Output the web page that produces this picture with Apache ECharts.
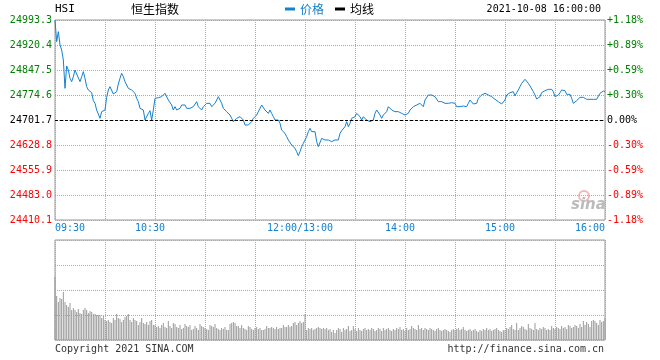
<!DOCTYPE html>
<html><head><meta charset="utf-8">
<script src="https://cdn.jsdelivr.net/npm/echarts@6/dist/echarts.min.js"></script>
<style>html,body{margin:0;padding:0;background:#fff}#c{width:660px;height:360px}</style>
</head><body><div id="c"></div>
<script>
// ---------- data ----------
const preClose = 24701.7;
const priceStep = 72.9;
const leftTickLabels = ['24993.3','24920.4','24847.5','24774.6','24701.7','24628.8','24555.9','24483.0','24410.1'];
const rightTickLabels = ['+1.18%','+0.89%','+0.59%','+0.30%','0.00%','-0.30%','-0.59%','-0.89%','-1.18%'];
const xTickTimes = ['09:30','10:30','12:00','14:00','15:00','16:00'];
const xTickLabels = ['09:30','10:30','12:00/13:00','14:00','15:00','16:00'];

const prices = [
24993.3,24930.1,24959.3,24920.4,24905.8,24876.7,24794.0,24859.2,24847.5,24823.2,
24813.5,24828.1,24847.5,24835.8,24837.8,24813.5,24828.1,24842.6,24823.2,24798.9,
24789.2,24794.0,24781.4,24758.1,24750.3,24730.9,24726.0,24706.6,24726.0,24730.9,
24730.9,24767.8,24789.2,24798.9,24803.8,24777.5,24774.6,24784.3,24806.7,24823.2,
24837.8,24828.1,24813.5,24803.8,24794.0,24789.2,24789.2,24789.2,24779.5,24764.9,
24755.2,24735.7,24730.9,24730.9,24701.7,24696.8,24721.1,24728.9,24701.7,24730.9,
24764.9,24764.9,24766.8,24767.8,24769.7,24771.7,24779.5,24784.3,24760.0,24755.2,
24745.4,24730.9,24740.6,24730.9,24726.0,24735.7,24745.4,24750.3,24745.4,24735.7,
24730.9,24735.7,24740.6,24740.6,24745.4,24755.2,24740.6,24740.6,24730.9,24740.6,
24745.4,24750.3,24745.4,24750.3,24740.6,24745.4,24750.3,24755.2,24769.7,24760.0,
24750.3,24735.7,24730.9,24726.0,24721.1,24716.3,24706.6,24696.8,24701.7,24706.6,
24711.4,24711.4,24711.4,24701.7,24687.1,24692.0,24687.1,24687.1,24696.8,24706.6,
24711.4,24716.3,24721.1,24735.7,24745.4,24740.6,24730.9,24730.9,24721.1,24730.9,
24721.1,24711.4,24701.7,24703.6,24701.7,24692.0,24672.5,24667.7,24662.8,24653.1,
24643.4,24638.5,24628.8,24623.9,24619.1,24609.4,24597.7,24609.4,24623.9,24633.7,
24638.5,24653.1,24667.7,24677.4,24667.7,24672.5,24667.7,24638.5,24623.9,24628.8,
24648.2,24653.1,24643.4,24638.5,24643.4,24648.2,24638.5,24643.4,24643.4,24643.4,
24643.4,24662.8,24670.6,24672.5,24682.3,24696.8,24682.3,24692.0,24706.6,24711.4,
24711.4,24721.1,24726.0,24711.4,24701.7,24711.4,24706.6,24701.7,24701.7,24696.8,
24692.0,24701.7,24721.1,24730.9,24726.0,24716.3,24706.6,24716.3,24721.1,24726.0,
24740.6,24740.6,24730.9,24730.9,24726.0,24721.1,24726.0,24730.9,24721.1,24716.3,
24716.3,24716.3,24721.1,24730.9,24735.7,24740.6,24740.6,24745.4,24750.3,24750.3,
24745.4,24740.6,24760.0,24764.9,24774.6,24779.5,24774.6,24774.6,24769.7,24764.9,
24755.2,24755.2,24755.2,24750.3,24750.3,24750.3,24750.3,24750.3,24752.2,24752.2,
24750.3,24740.6,24735.7,24740.6,24740.6,24742.5,24745.4,24740.6,24750.3,24760.0,
24755.2,24748.4,24748.4,24750.3,24764.9,24769.7,24774.6,24776.5,24779.5,24777.5,
24774.6,24771.7,24769.7,24764.9,24762.0,24760.0,24755.2,24750.3,24748.4,24750.3,
24760.0,24774.6,24777.5,24781.4,24779.5,24784.3,24771.7,24781.4,24789.2,24798.9,
24808.6,24813.5,24820.3,24826.1,24808.6,24800.8,24798.9,24784.3,24774.6,24762.9,
24764.9,24769.7,24781.4,24784.3,24787.2,24789.2,24791.1,24791.1,24791.1,24784.3,
24769.7,24767.8,24774.6,24781.4,24789.2,24794.0,24787.2,24776.5,24776.5,24776.5,
24764.9,24750.3,24752.2,24758.1,24762.0,24767.8,24762.0,24767.8,24764.9,24762.0,
24767.8,24762.0,24764.9,24762.0,24762.0,24762.0,24767.8,24779.5,24784.3,24786.3,
24784.3
];

const volumes = [
63,44,38,42,41,48,38,35,33,37,
30,32,30,28,31,27,26,30,32,30,
27,29,28,26,26,25,25,25,22,24,
20,19,20,18,17,22,20,26,22,21,
18,20,23,24,26,20,18,22,20,19,
15,18,22,17,16,18,15,19,20,15,
15,13,14,12,15,17,13,12,19,14,
12,17,16,13,12,15,11,12,16,14,
13,15,10,11,14,12,10,16,14,13,
12,11,10,15,14,13,16,12,11,10,
12,11,13,10,10,16,17,18,17,14,
14,12,15,12,11,10,14,13,11,10,
12,13,11,12,10,10,11,14,12,12,
13,12,11,13,11,12,12,15,13,13,
15,13,14,17,18,15,17,19,17,18,
26,
10,12,11,12,10,11,12,13,12,11,
12,11,12,10,
11,8,10,7,10,12,11,8,12,10,11,14,9,
10,14,11,9,12,10,9,11,12,10,11,10,12,11,9,10,12,
11,9,12,10,11,12,10,9,11,10,12,11,13,10,11,9,12,10,11,14,12,11,10,15,11,12,10,12,11,10,
12,11,10,9,11,12,10,9,10,11,10,9,8,10,11,
10,11,12,10,11,13,10,9,10,11,9,10,11,9,8,10,9,11,10,12,10,11,9,10,11,12,10,9,8,10,
10,12,11,13,15,11,10,17,10,12,14,13,11,10,16,12,11,10,17,11,10,12,11,13,12,10,11,10,14,12,11,
13,12,11,14,12,13,11,15,14,12,13,15,14,12,16,13,19,15,18,16,13,19,20,19,17,15,20,18,19,22
];

// ---------- categories (trading minutes) ----------
const times = [];
function pushRange(h0, m0, h1, m1) {
  for (let t = h0 * 60 + m0; t <= h1 * 60 + m1; t++) {
    times.push(String(Math.floor(t / 60)).padStart(2, '0') + ':' + String(t % 60).padStart(2, '0'));
  }
}
pushRange(9, 30, 12, 0);
pushRange(13, 1, 16, 0);

const deltas = prices.map(p => +(p - preClose).toFixed(1));

const MONO = 'DejaVu Sans Mono';
const BLUE = '#1480d0';
const gridLine = { show: true, lineStyle: { color: '#aaa', type: [1, 1], width: 1 } };
const splitX = { show: true, interval: (i) => i % 30 === 0, lineStyle: { color: '#aaa', type: [1, 1], width: 1 } };
const upDownColor = (v) => { v = Number(v); return v > 0.01 ? '#008000' : (v < -0.01 ? '#ff0000' : '#000000'); };
const tickIdx = (v) => 4 - Math.round(Number(v) / priceStep);

const chart = echarts.init(document.getElementById('c'));
chart.setOption({
  animation: false,
  backgroundColor: '#fff',
  legend: {
    left: 285, top: 3, padding: 0, icon: 'rect', itemWidth: 10, itemHeight: 3, itemGap: 11,
    textStyle: { fontSize: 12, fontFamily: 'Noto Sans CJK SC' },
    data: [
      { name: '价格', textStyle: { color: BLUE } },
      { name: '均线', textStyle: { color: '#000' } }
    ]
  },
  grid: [
    { left: 55, top: 20, width: 550, height: 200, show: true, borderColor: '#999', borderWidth: 1 },
    { left: 55, top: 240, width: 550, height: 100, show: true, borderColor: '#999', borderWidth: 1 }
  ],
  xAxis: [
    {
      type: 'category', gridIndex: 0, data: times, boundaryGap: false,
      axisLine: { show: false }, axisTick: { show: false },
      splitLine: splitX,
      axisLabel: {
        margin: 3,
        interval: (i, v) => xTickTimes.indexOf(v) >= 0,
        formatter: (v) => {
          const k = xTickTimes.indexOf(v);
          const s = xTickLabels[k];
          if (k === 0) return '{l|' + s + '}';
          if (k === xTickTimes.length - 1) return '{r|' + s + '}';
          return '{m|' + s + '}';
        },
        rich: {
          l: { fontFamily: MONO, fontSize: 10, color: BLUE, padding: [0, 0, 0, 30] },
          r: { fontFamily: MONO, fontSize: 10, color: BLUE, padding: [0, 30, 0, 0] },
          m: { fontFamily: MONO, fontSize: 10, color: BLUE, padding: [0, 10, 0, 0] }
        }
      }
    },
    {
      type: 'category', gridIndex: 1, data: times, boundaryGap: false,
      axisLine: { show: false }, axisTick: { show: false }, axisLabel: { show: false },
      splitLine: splitX
    }
  ],
  yAxis: [
    {
      type: 'value', gridIndex: 0, position: 'left',
      min: -4 * priceStep, max: 4 * priceStep, interval: priceStep,
      axisLine: { show: false }, axisTick: { show: false },
      splitLine: gridLine,
      axisLabel: {
        margin: 3, fontFamily: MONO, fontSize: 10, padding: [0, 0, 5, 0],
        color: upDownColor,
        formatter: (v) => leftTickLabels[tickIdx(v)]
      }
    },
    {
      type: 'value', gridIndex: 0, position: 'right',
      min: -4 * priceStep, max: 4 * priceStep, interval: priceStep,
      axisLine: { show: false }, axisTick: { show: false },
      splitLine: { show: false },
      axisLabel: {
        margin: 2, fontFamily: MONO, fontSize: 10, padding: [0, 0, 5, 0],
        color: upDownColor,
        formatter: (v) => rightTickLabels[tickIdx(v)]
      }
    },
    {
      type: 'value', gridIndex: 1, min: 0, max: 100, interval: 25,
      axisLine: { show: false }, axisTick: { show: false }, axisLabel: { show: false },
      splitLine: gridLine
    }
  ],
  series: [
    {
      name: '价格', type: 'line', xAxisIndex: 0, yAxisIndex: 0, data: deltas,
      showSymbol: false, symbol: 'none', color: BLUE,
      lineStyle: { color: BLUE, width: 1 },
      markLine: {
        silent: true, symbol: ['none', 'none'], label: { show: false },
        lineStyle: { color: '#000', type: [3, 2], width: 1 },
        data: [{ yAxis: 0 }]
      },
      z: 3
    },
    {
      name: '均线', type: 'line', xAxisIndex: 0, yAxisIndex: 0, data: [],
      showSymbol: false, color: '#000', lineStyle: { color: '#000', width: 1 }
    },
    {
      name: '成交量', type: 'bar', xAxisIndex: 1, yAxisIndex: 2, data: volumes,
      barWidth: 1, itemStyle: { color: '#999' }
    }
  ],
  graphic: [
    { type: 'text', left: 55, top: 4, style: { text: 'HSI', fill: '#000', font: '11px "DejaVu Sans Mono"' } },
    { type: 'text', left: 131, top: 3, style: { text: '恒生指数', fill: '#000', font: '12px "Noto Sans CJK SC"' } },
    { type: 'text', right: 59, top: 4, style: { text: '2021-10-08 16:00:00', fill: '#000', font: '10px "DejaVu Sans Mono"' } },
    { type: 'text', left: 55, top: 344, style: { text: 'Copyright 2021 SINA.COM', fill: '#333', font: '10px "DejaVu Sans Mono"' } },
    { type: 'text', right: 56, top: 344, style: { text: 'http://finance.sina.com.cn', fill: '#333', font: '10px "DejaVu Sans Mono"' } },
    { type: 'circle', shape: { cx: 584, cy: 196, r: 5 }, style: { fill: 'none', stroke: '#f2b8b8', lineWidth: 2 } },
    { type: 'text', left: 571, top: 198, style: { text: 'sina', fill: '#bbb', font: 'italic bold 15px "DejaVu Sans"' } }
  ]
});
</script>
</body></html>
